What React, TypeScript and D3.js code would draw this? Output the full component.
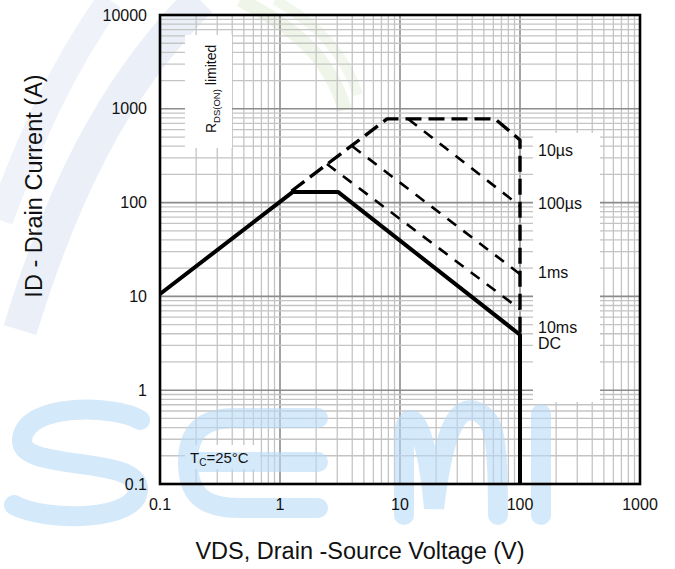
import React from "react";
import * as d3 from "d3";

const W = 675;
const H = 569;

// axis ticks
const xMajor = [0.1, 1, 10, 100, 1000];
const xLabels = ["0.1", "1", "10", "100", "1000"];
const yMajor = [0.1, 1, 10, 100, 1000, 10000];
const yLabels = ["0.1", "1", "10", "100", "1000", "10000"];

// curves: VDS (V) and ID (A)
const dcV = [0.1, 1.28, 3.04, 100, 100];
const dcI = [10.6, 130, 130, 3.9, 0.1];
const us10V = [1.25, 7.8, 62, 100, 100];
const us10I = [133, 780, 780, 465, 3.9];
const us100V = [11.7, 100];
const us100I = [780, 92];
const ms1V = [3.98, 100];
const ms1I = [401, 17.3];
const ms10V = [2.46, 100];
const ms10I = [258, 7.3];

const seriesLabels = ["10µs", "100µs", "1ms", "10ms", "DC"];
const seriesLabelI = [118, 78, 78 / 4.5, 5.5, 3.6];

const FONT = "Liberation Sans, Arial, Helvetica, sans-serif";

export default function App() {
  const L = 160, R = 640, T = 15, B = 484;
  const x = d3.scaleLog().domain([0.1, 1000]).range([L, R]);
  const y = d3.scaleLog().domain([0.1, 10000]).range([B, T]);
  const xGrid = x.ticks();
  const yGrid = y.ticks();
  const line = d3
    .line<[number, number]>()
    .x((d) => x(d[0]))
    .y((d) => y(d[1]));
  const zip = (a: number[], b: number[]) => a.map((v, i) => [v, b[i]] as [number, number]);
  const isMajor = (v: number) => Math.abs(Math.log10(v) - Math.round(Math.log10(v))) < 1e-6;

  // label y positions for right-side labels (pixel from data)
  const labelY = [150, 203, 272, 327, 343];

  return (
    <svg
      width={W}
      height={H}
      style={{ position: "fixed", left: 0, top: 0, background: "#fff" }}
      fontFamily={FONT}
    >
      <rect x={0} y={0} width={W} height={H} fill="#fff" />
      {/* faint watermark arcs at top */}
      <g fill="none" opacity={0.55}>
        <path d="M 20 330 C 60 200, 110 90, 200 0" stroke="#dbe4f3" strokeWidth={34} />
        <path d="M 0 220 C 30 140, 60 70, 110 0" stroke="#e2e9f5" strokeWidth={26} />
        <path d="M 240 0 C 300 30, 330 60, 345 110" stroke="#e2f0d8" strokeWidth={14} />
        <path d="M 275 0 C 320 25, 345 55, 358 95" stroke="#e6f2dd" strokeWidth={10} />
      </g>

      {/* grid */}
      <g>
        {xGrid.map((v, i) => (
          <line
            key={"gx" + i}
            x1={x(v)}
            x2={x(v)}
            y1={T}
            y2={B}
            stroke={isMajor(v) ? "#8c8c8c" : "#c4c4c4"}
            strokeWidth={isMajor(v) ? 1.6 : 1.3}
          />
        ))}
        {yGrid.map((v, i) => (
          <line
            key={"gy" + i}
            x1={L}
            x2={R}
            y1={y(v)}
            y2={y(v)}
            stroke={isMajor(v) ? "#8c8c8c" : "#c4c4c4"}
            strokeWidth={isMajor(v) ? 1.6 : 1.3}
          />
        ))}
      </g>

      {/* white label boxes */}
      <rect x={185} y={35} width={47} height={113} fill="#fff" />
      <rect x={533} y={133} width={67} height={269} fill="#fff" />
      <rect x={185} y={445} width={75} height={24} fill="#fff" />

      {/* SEMI watermark */}
      <g fill="none" stroke="#b9dbf7" strokeWidth={20} strokeLinecap="round" opacity={0.6}>
        <path d="M 140 420 C 115 405, 25 402, 22 440 C 20 472, 135 455, 138 488 C 140 522, 45 522, 14 505" />
        <path d="M 318 418 L 235 418 C 195 418, 188 440, 188 462 C 188 492, 200 508, 240 508 L 318 508 M 198 462 L 318 462" />
        <path d="M 404 515 L 404 440 C 404 405, 425 408, 434 508 C 445 420, 460 405, 478 412 C 495 420, 498 440, 498 515" />
        <path d="M 541 414 L 541 515" />
      </g>

      {/* curves */}
      <g fill="none" stroke="#000" strokeLinejoin="round">
        <path d={line(zip(ms10V, ms10I)) || ""} strokeWidth={2.6} strokeDasharray="11 9" />
        <path d={line(zip(ms1V, ms1I)) || ""} strokeWidth={2.6} strokeDasharray="11 9" />
        <path d={line(zip(us100V, us100I)) || ""} strokeWidth={2.6} strokeDasharray="11 9" />
        <path d={line(zip(us10V, us10I)) || ""} strokeWidth={3.4} strokeDasharray="16 7" />
        <path d={line(zip(dcV, dcI)) || ""} strokeWidth={4} />
      </g>

      {/* frame */}
      <rect x={L} y={T} width={R - L} height={B - T} fill="none" stroke="#000" strokeWidth={2.6} />

      {/* tick labels */}
      <g fontSize={16} fill="#111">
        {xMajor.map((v, i) => (
          <text key={"xl" + i} x={x(v)} y={510} textAnchor="middle">
            {xLabels[i]}
          </text>
        ))}
        {yMajor.map((v, i) => (
          <text key={"yl" + i} x={147} y={y(v)} dy="0.35em" textAnchor="end">
            {yLabels[i]}
          </text>
        ))}
      </g>

      {/* series labels */}
      <g fontSize={16} fill="#111">
        {seriesLabels.map((s, i) => (
          <text key={"sl" + i} x={538} y={labelY[i]} dy="0.35em">
            {s}
          </text>
        ))}
      </g>

      {/* RDS(ON) limited */}
      <text transform="translate(216,133) rotate(-90)" fontSize={14} fill="#111">
        R
        <tspan fontSize={9.5} dy={4}>DS(ON)</tspan>
        <tspan dy={-4}> limited</tspan>
      </text>

      {/* Tc label */}
      <text x={190} y={463} fontSize={15} fill="#111">
        T<tspan fontSize={10} dy={3}>C</tspan>
        <tspan dy={-3}>=25°C</tspan>
      </text>

      {/* axis titles */}
      <text x={360} y={559} textAnchor="middle" fontSize={23.5} fill="#111">
        VDS, Drain -Source Voltage (V)
      </text>
      <text transform="translate(42,186) rotate(-90)" textAnchor="middle" fontSize={23.5} fill="#111">
        ID - Drain Current (A)
      </text>
    </svg>
  );
}
